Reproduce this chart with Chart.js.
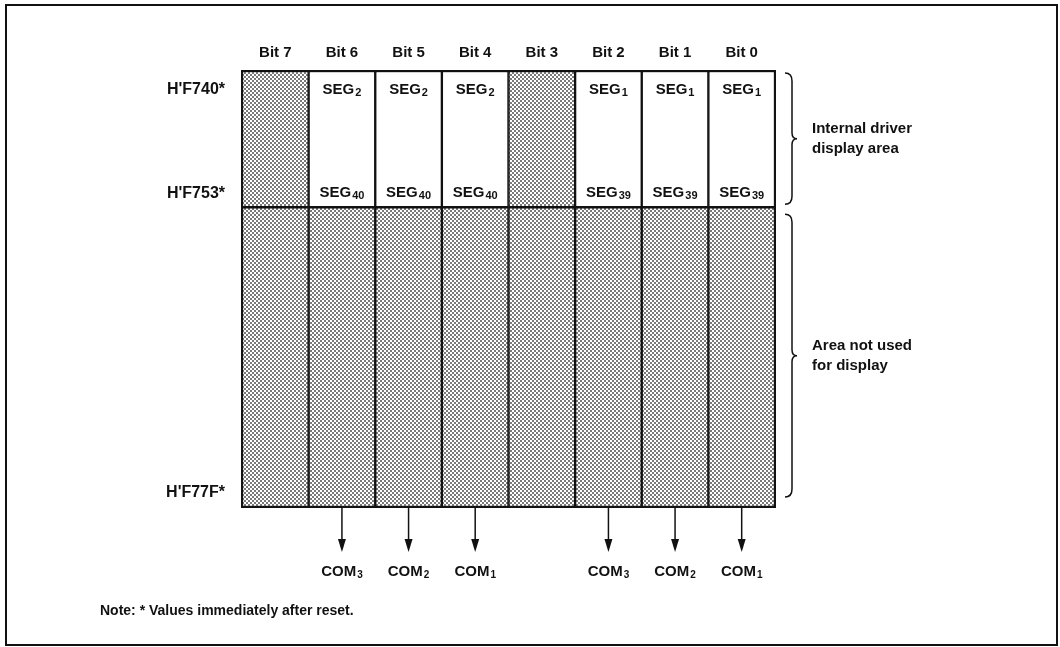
<!DOCTYPE html>
<html>
<head>
<meta charset="utf-8">
<script src="https://cdn.jsdelivr.net/npm/chart.js@4/dist/chart.umd.min.js"></script>
<style>
  body { margin: 0; background: #fff; }
  canvas { display: block; }
</style>
</head>
<body>
<canvas id="memChart" width="1060" height="647"></canvas>
<script>
// bit columns of the register area
const bitLabels = ['Bit 7', 'Bit 6', 'Bit 5', 'Bit 4', 'Bit 3', 'Bit 2', 'Bit 1', 'Bit 0'];
const segFirst = [null, 2, 2, 2, null, 1, 1, 1];
const segLast = [null, 40, 40, 40, null, 39, 39, 39];
const comLines = [null, 3, 2, 1, null, 3, 2, 1];

// address range (one unit = one byte)
const addrStart = 0xF740;
const addrDisplayEnd = 0xF754;
const addrEnd = 0xF780;
const addrTicks = [0xF740, 0xF753, 0xF77F];
const addrTickLabels = ["H'F740*", "H'F753*", "H'F77F*"];

const braceLabels = [['Internal driver', 'display area'], ['Area not used', 'for display']];
const noteText = 'Note: * Values immediately after reset.';

const FONT = '"Liberation Sans", Arial, Helvetica, sans-serif';
const INK = '#111';

const canvas = document.getElementById('memChart');
const ctx = canvas.getContext('2d');

// halftone-like dot fill
function makeDots() {
    const tile = document.createElement('canvas');
    tile.width = 4;
    tile.height = 4;
    const t = tile.getContext('2d');
    t.fillStyle = '#fff';
    t.fillRect(0, 0, 4, 4);
    t.fillStyle = '#7a7a7a';
    t.fillRect(0, 0, 2, 2);
    t.fillRect(2, 2, 2, 2);
    return ctx.createPattern(tile, 'repeat');
}
const dots = makeDots();

function subText(c, base, sub, cx, cy, size, subSize) {
    c.font = 'bold ' + size + 'px ' + FONT;
    const w1 = c.measureText(base).width;
    c.font = 'bold ' + subSize + 'px ' + FONT;
    const w2 = c.measureText(sub).width;
    let x = cx - (w1 + w2 + 1) / 2;
    c.textAlign = 'left';
    c.textBaseline = 'middle';
    c.font = 'bold ' + size + 'px ' + FONT;
    c.fillText(base, x, cy);
    c.font = 'bold ' + subSize + 'px ' + FONT;
    c.fillText(sub, x + w1 + 1, cy + 3);
}

function brace(c, x, y1, y2) {
    const mid = (y1 + y2) / 2;
    c.beginPath();
    c.moveTo(x, y1);
    c.quadraticCurveTo(x + 7, y1, x + 7, y1 + 8);
    c.lineTo(x + 7, mid - 6);
    c.quadraticCurveTo(x + 7, mid, x + 12, mid);
    c.quadraticCurveTo(x + 7, mid, x + 7, mid + 6);
    c.lineTo(x + 7, y2 - 8);
    c.quadraticCurveTo(x + 7, y2, x, y2);
    c.stroke();
    return mid;
}

const decorations = {
    id: 'decorations',
    afterDraw(chart) {
        const c = chart.ctx;
        const area = chart.chartArea;
        const xs = chart.scales.x;
        const ys = chart.scales.y;
        c.save();
        c.fillStyle = INK;
        c.strokeStyle = INK;

        // outer frame
        c.lineWidth = 2;
        c.strokeRect(6, 5, 1051, 640);
        // grid outline
        c.strokeRect(area.left, area.top, area.right - area.left, area.bottom - area.top);

        // bit headings
        c.font = 'bold 15px ' + FONT;
        c.textAlign = 'center';
        c.textBaseline = 'middle';
        bitLabels.forEach((b, i) => c.fillText(b, xs.getPixelForValue(i), area.top - 18));

        // address labels
        const rowY = v => v === addrStart ? ys.getPixelForValue(addrStart) + 19 : ys.getPixelForValue(v + 1) - 14;
        c.font = 'bold 16px ' + FONT;
        c.textAlign = 'right';
        addrTicks.forEach((v, i) => c.fillText(addrTickLabels[i], area.left - 17, rowY(v)));

        // SEG labels
        bitLabels.forEach((b, i) => {
            const cx = xs.getPixelForValue(i);
            if (segFirst[i] != null) subText(c, 'SEG', String(segFirst[i]), cx, rowY(addrTicks[0]), 15, 11);
            if (segLast[i] != null) subText(c, 'SEG', String(segLast[i]), cx, rowY(addrTicks[1]), 15, 11);
        });

        // COM arrows
        c.lineWidth = 1.5;
        bitLabels.forEach((b, i) => {
            if (comLines[i] == null) return;
            const cx = xs.getPixelForValue(i);
            const tip = area.bottom + 45;
            c.beginPath();
            c.moveTo(cx, area.bottom);
            c.lineTo(cx, tip - 10);
            c.stroke();
            c.beginPath();
            c.moveTo(cx - 4, tip - 13);
            c.lineTo(cx + 4, tip - 13);
            c.lineTo(cx, tip);
            c.closePath();
            c.fill();
            subText(c, 'COM', String(comLines[i]), cx, area.bottom + 65, 15, 10);
        });

        // braces and their labels
        c.lineWidth = 1.5;
        const bx = area.right + 10;
        const m1 = brace(c, bx, ys.getPixelForValue(addrStart) + 2, ys.getPixelForValue(addrDisplayEnd) - 3);
        const m2 = brace(c, bx, ys.getPixelForValue(addrDisplayEnd) + 7, ys.getPixelForValue(addrEnd) - 10);
        c.font = 'bold 15px ' + FONT;
        c.textAlign = 'left';
        [m1, m2].forEach((m, k) => {
            c.fillText(braceLabels[k][0], area.right + 37, m - 10);
            c.fillText(braceLabels[k][1], area.right + 37, m + 10);
        });

        // note
        c.font = 'bold 14px ' + FONT;
        c.fillText(noteText, 100, 611);

        c.restore();
    }
};

new Chart(ctx, {
    type: 'bar',
    data: {
        labels: bitLabels,
        datasets: [{
            label: 'Internal driver display area',
            data: bitLabels.map(() => [addrStart, addrDisplayEnd]),
            backgroundColor: segFirst.map(s => s == null ? dots : '#fff')
        }, {
            label: 'Area not used for display',
            data: bitLabels.map(() => [addrDisplayEnd, addrEnd]),
            backgroundColor: dots
        }]
    },
    options: {
        responsive: false,
        animation: false,
        events: [],
        layout: { padding: { left: 242, right: 285, top: 71, bottom: 140 } },
        datasets: {
            bar: {
                grouped: false,
                barPercentage: 1,
                categoryPercentage: 1,
                borderWidth: 1.5,
                borderColor: INK,
                borderSkipped: false
            }
        },
        scales: {
            x: { type: 'category', display: false },
            y: { type: 'linear', display: false, reverse: true, min: addrStart, max: addrEnd }
        },
        plugins: {
            legend: { display: false },
            tooltip: { enabled: false }
        }
    },
    plugins: [decorations]
});
</script>
</body>
</html>
